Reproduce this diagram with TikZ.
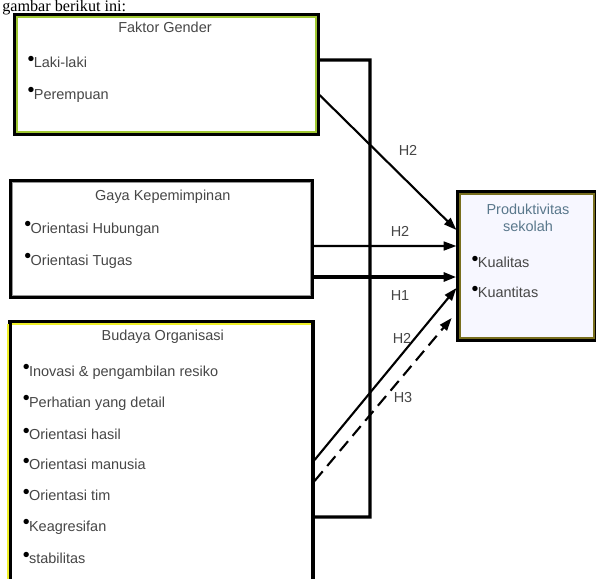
\documentclass[tikz,border=0pt]{standalone}
\usepackage{fontspec}
\setmainfont{Liberation Sans}
\newfontfamily\headserif{Liberation Serif}
\usetikzlibrary{arrows.meta}

\definecolor{gendergreen}{RGB}{160,200,50}
\definecolor{gayagray}{RGB}{150,150,150}
\definecolor{budayayellow}{RGB}{240,240,40}
\definecolor{prodolive}{RGB}{120,110,30}
\definecolor{prodtext}{RGB}{90,120,140}
\definecolor{txtgray}{RGB}{70,70,70}

\newcommand{\itm}[1]{\raisebox{0.3ex}{\color{black}\fontsize{14}{14}\selectfont\textbullet}\kern-0.5pt#1}

\begin{document}
\begin{tikzpicture}[
	varbox/.style={rectangle, draw=black, line width=2.2pt, inner sep=0pt},
	lbl/.style={font=\fontsize{10.3}{12}\selectfont, text=txtgray, inner sep=1pt},
	itemlbl/.style={lbl, anchor=west},
	pathline/.style={line width=1.5pt, -{Triangle[length=3.2mm,width=2.2mm]}},
	]
		
		\useasboundingbox (0,0) rectangle (14.9,-14.45);
		
		% text above the figure
		\node (caption) at (0.05,-0.29) [anchor=base west, inner sep=0pt, font=\headserif\fontsize{11.5}{13}\selectfont]{gambar berikut ini:};
		
		% Faktor Gender
		\node (gender) at (4.1625,-1.8625) [varbox, minimum width=7.575cm, minimum height=2.975cm]{};
		\draw[gendergreen, line width=1.2pt] ([shift={(2.4pt,-2.4pt)}]gender.north west) rectangle ([shift={(-2.4pt,2.4pt)}]gender.south east);
		\node (genderTitle) at (4.125,-0.675) [lbl]{Faktor Gender};
		\node (genderItem1) at (0.65,-1.55) [itemlbl]{\itm{Laki-laki}};
		\node (genderItem2) at (0.65,-2.375) [itemlbl]{\itm{Perempuan}};
		
		% Gaya Kepemimpinan
		\node (gaya) at (4.0375,-5.975) [varbox, minimum width=7.525cm, minimum height=2.9cm]{};
		\draw[gayagray, line width=0.8pt] ([shift={(2.4pt,-2.4pt)}]gaya.north west) rectangle ([shift={(-2.4pt,2.4pt)}]gaya.south east);
		\node (gayaTitle) at (4.07,-4.925) [lbl]{Gaya Kepemimpinan};
		\node (gayaItem1) at (0.57,-5.725) [itemlbl]{\itm{Orientasi Hubungan}};
		\node (gayaItem2) at (0.57,-6.525) [itemlbl]{\itm{Orientasi Tugas}};
		
		% Budaya Organisasi
		\node (budaya) at (4.0375,-11.3) [varbox, minimum width=7.575cm, minimum height=6.5cm]{};
		\draw[budayayellow, line width=1.4pt] ([shift={(0pt,-2.4pt)}]budaya.north west) -- ([shift={(0pt,0pt)}]budaya.south west);
		\draw[budayayellow, line width=1.2pt] ([shift={(2.4pt,-2.4pt)}]budaya.north west) -- ([shift={(-2.4pt,-2.4pt)}]budaya.north east);
		\node (budayaTitle) at (4.07,-8.425) [lbl]{Budaya Organisasi};
		\node (budayaItem1) at (0.53,-9.3) [itemlbl]{\itm{Inovasi \& pengambilan resiko}};
		\node (budayaItem2) at (0.53,-10.075) [itemlbl]{\itm{Perhatian yang detail}};
		\node (budayaItem3) at (0.53,-10.85) [itemlbl]{\itm{Orientasi hasil}};
		\node (budayaItem4) at (0.53,-11.6) [itemlbl]{\itm{Orientasi manusia}};
		\node (budayaItem5) at (0.53,-12.375) [itemlbl]{\itm{Orientasi tim}};
		\node (budayaItem6) at (0.53,-13.175) [itemlbl]{\itm{Keagresifan}};
		\node (budayaItem7) at (0.53,-13.95) [itemlbl]{\itm{stabilitas}};
		
		% Produktivitas sekolah
		\node (prod) at (13.175,-6.65) [varbox, fill=blue!3, minimum width=3.45cm, minimum height=3.7cm]{};
		\draw[prodolive, line width=1.2pt] ([shift={(2.4pt,-2.4pt)}]prod.north west) rectangle ([shift={(-2.4pt,2.4pt)}]prod.south east);
		\node (prodTitle) at (13.2,-5.45) [lbl, text=prodtext, align=center, font=\fontsize{10.3}{12.5}\selectfont]{Produktivitas\\sekolah};
		\node (prodItem1) at (11.75,-6.55) [itemlbl]{\itm{Kualitas}};
		\node (prodItem2) at (11.75,-7.3) [itemlbl]{\itm{Kuantitas}};
		
		% Linking gender and budaya
		\coordinate (bend) at (9.25,-12.925);
		\draw[line width=2.4pt] ([yshift=0.3625cm]gender.east) -| (bend) -- ([yshift=-1.625cm]budaya.east);
		
		% Hypothesis paths
		\draw[pathline] ([yshift=-0.5125cm]gender.east) -- ([yshift=0.9cm]prod.west);
		\draw[pathline] ([yshift=-0.175cm]gaya.east) -- ([yshift=0.5cm]prod.west);
		\draw[pathline, line width=2.8pt] ([yshift=-0.95cm]gaya.east) -- ([yshift=-0.275cm]prod.west);
		\draw[pathline] ([yshift=-0.2cm]budaya.east) -- ([yshift=-0.55cm]prod.west);
		\draw[pathline, dashed, dash pattern=on 9pt off 5pt] ([yshift=-0.725cm]budaya.east) -- ([xshift=-0.12cm,yshift=-1.3cm]prod.west);
		
		% Labels
		\node (labelH2a) at (10.2,-3.75) [lbl]{H2};
		\node (labelH2b) at (10.0,-5.775) [lbl]{H2};
		\node (labelH1) at (10.0,-7.4) [lbl]{H1};
		\node (labelH2c) at (10.05,-8.45) [lbl]{H2};
		\node (labelH3) at (10.075,-9.95) [lbl]{H3};
		
\end{tikzpicture}
\end{document}
